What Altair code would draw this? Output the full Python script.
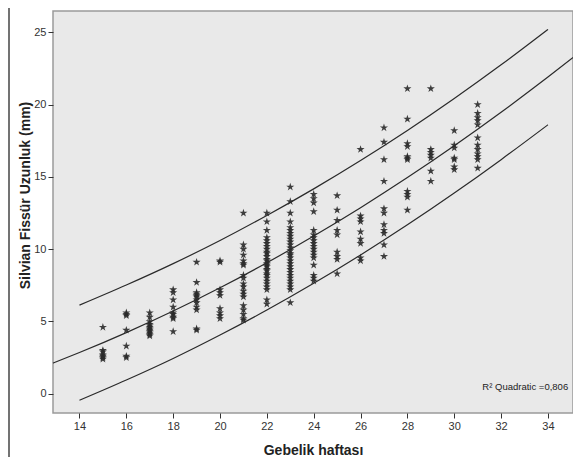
import altair as alt
import pandas as pd

# ---- data ----
weeks = list(range(15, 32))
y_w15 = [4.6, 3.0, 2.9, 2.7, 2.6, 2.5, 2.4]
y_w16 = [5.6, 5.5, 5.4, 4.4, 3.3, 2.6, 2.5]
y_w17 = [5.6, 5.3, 5.0, 4.8, 4.7, 4.6, 4.5, 4.4, 4.3, 4.2, 4.1, 4.0]
y_w18 = [7.2, 7.0, 6.5, 6.0, 5.6, 5.5, 5.3, 5.2, 4.3]
y_w19 = [9.1, 7.7, 7.0, 6.9, 6.8, 6.7, 6.5, 6.3, 6.0, 5.8, 4.5, 4.4]
y_w20 = [9.2, 9.1, 7.2, 7.0, 6.8, 5.9, 5.6, 5.4, 5.2]
y_w21 = [12.5, 10.3, 10.0, 9.6, 9.2, 9.0, 8.9, 8.2, 8.0, 7.6, 7.4, 7.1, 6.9, 6.7,
         6.1, 5.8, 5.5, 5.2, 5.1]
y_w22 = [12.5, 11.9, 11.3, 10.8, 10.6, 10.4, 10.2, 10.0, 9.8, 9.7, 9.5, 9.3, 9.2,
         9.0, 8.9, 8.8, 8.6, 8.5, 8.3, 8.2, 8.0, 7.8, 7.6, 7.4, 7.2, 6.5, 6.2]
y_w23 = [14.3, 13.3, 12.5, 11.9, 11.5, 11.3, 11.1, 10.9, 10.7, 10.5, 10.3, 10.1,
         9.9, 9.7, 9.6, 9.4, 9.2, 9.0, 8.8, 8.6, 8.4, 8.2, 8.0, 7.8, 7.6, 7.4, 7.2, 6.3]
y_w24 = [13.8, 13.5, 13.2, 12.6, 11.3, 11.0, 10.8, 10.6, 10.4, 10.2, 10.0, 9.8,
         9.6, 9.4, 8.9, 8.2, 8.0, 7.8]
y_w25 = [13.7, 12.7, 12.0, 11.3, 11.0, 9.8, 9.5, 9.3, 8.3]
y_w26 = [16.9, 12.3, 12.1, 11.9, 11.2, 10.7, 10.4, 9.4, 9.2]
y_w27 = [18.4, 17.4, 16.2, 14.7, 12.8, 12.5, 11.7, 11.3, 11.1, 10.3, 9.5]
y_w28 = [21.1, 19.0, 17.3, 17.1, 16.4, 16.3, 16.2, 14.0, 13.8, 13.6, 12.7]
y_w29 = [21.1, 16.9, 16.7, 16.5, 16.3, 15.4, 14.7]
y_w30 = [18.2, 17.2, 17.0, 16.3, 16.2, 15.7, 15.5]
y_w31 = [20.0, 19.4, 19.1, 18.9, 18.6, 17.7, 17.2, 16.9, 16.6, 16.4, 16.2, 15.6]

# fitted curve and prediction limits
fit_x = [12.87, 14, 16, 18, 20, 22, 24, 26, 28, 30, 32, 34, 35.07]
fit_y = [2.12, 2.85, 4.23, 5.72, 7.33, 9.06, 10.91, 12.87, 14.95, 17.15, 19.47, 21.90, 23.25]
band_x = [14, 16, 18, 20, 22, 24, 26, 28, 30, 32, 34]
upper_y = [6.13, 7.52, 9.00, 10.60, 12.33, 14.17, 16.13, 18.21, 20.42, 22.75, 25.20]
lower_y = [-0.45, 0.95, 2.44, 4.06, 5.79, 7.64, 9.60, 11.68, 13.88, 16.19, 18.60]

x_ticks = [14, 16, 18, 20, 22, 24, 26, 28, 30, 32, 34]
y_ticks = [0, 5, 10, 15, 20, 25]
x_domain = [12.87, 35.07]
y_domain = [-1.33, 26.47]
r2_label = "R\u00b2 Quadratic =0,806"

# ---- tables ----
all_y = [y_w15, y_w16, y_w17, y_w18, y_w19, y_w20, y_w21, y_w22, y_w23, y_w24,
         y_w25, y_w26, y_w27, y_w28, y_w29, y_w30, y_w31]
rows = []
for w, ys in zip(weeks, all_y):
    for v in ys:
        rows.append({"week": w, "mm": v})
pts = pd.DataFrame(rows)

curves = pd.concat([
    pd.DataFrame({"week": fit_x, "mm": fit_y, "curve": "fit"}),
    pd.DataFrame({"week": band_x, "mm": upper_y, "curve": "upper"}),
    pd.DataFrame({"week": band_x, "mm": lower_y, "curve": "lower"}),
])

FONT = "Liberation Sans"
STAR = ("M0,-1L0.2245,-0.309L0.951,-0.309L0.363,0.118L0.588,0.809L0,0.382"
        "L-0.588,0.809L-0.363,0.118L-0.951,-0.309L-0.2245,-0.309Z")

xs = alt.Scale(domain=x_domain, nice=False, zero=False)
ys_ = alt.Scale(domain=y_domain, nice=False, zero=False)

x_axis = alt.Axis(values=x_ticks, title="Gebelik haftası", grid=False, domain=False,
                  tickSize=5, tickColor="#333", labelPadding=2, labelFontSize=11,
                  labelColor="#333", labelFont=FONT, titleFont=FONT, titleFontSize=14,
                  titleFontWeight="bold", titleColor="#222", titleY=37,
                  titleBaseline="middle")
y_axis = alt.Axis(values=y_ticks, title="Silvian Fissür Uzunluk (mm)", grid=False,
                  domain=False, tickSize=5, tickColor="#333", labelPadding=2,
                  labelFontSize=11, labelColor="#333", labelFont=FONT, titleFont=FONT,
                  titleFontSize=14, titleFontWeight="bold", titleColor="#222",
                  titleX=-28, titleY=184, titleAngle=-90, titleAlign="center",
                  titleBaseline="middle")

base = alt.Chart(pts)
points = base.mark_point(shape=STAR, filled=True, size=72, color="#2a2a2a",
                         opacity=0.9).encode(
    x=alt.X("week:Q", scale=xs, axis=x_axis),
    y=alt.Y("mm:Q", scale=ys_, axis=y_axis),
)

lines = alt.Chart(curves).mark_line(color="#2a2a2a", strokeWidth=1.2,
                                    interpolate="monotone").encode(
    x=alt.X("week:Q", scale=xs),
    y=alt.Y("mm:Q", scale=ys_),
    detail="curve:N",
)

label = alt.Chart(pd.DataFrame({"week": [31.2], "mm": [0.45], "t": [r2_label]})).mark_text(
    align="left", baseline="middle", font=FONT, fontSize=9.5, color="#222"
).encode(x=alt.X("week:Q", scale=xs), y=alt.Y("mm:Q", scale=ys_), text="t:N")

frame = alt.Chart(pd.DataFrame({"a": [0]})).mark_rule(color="#444", strokeWidth=1.5).encode(
    x=alt.value(-44), y=alt.value(-3), y2=alt.value(446)
)

chart = alt.layer(lines, points, label, frame).properties(
    width=520, height=402,
    autosize=alt.AutoSizeParams(type="none"),
    padding={"left": 45, "top": 3, "right": 0, "bottom": 44},
).configure(background="white").configure_view(
    fill="#e9e9e9", stroke="#9a9a9a", strokeWidth=1.5
)

chart.save("out.html", embed_options={"renderer": "svg", "actions": False})
